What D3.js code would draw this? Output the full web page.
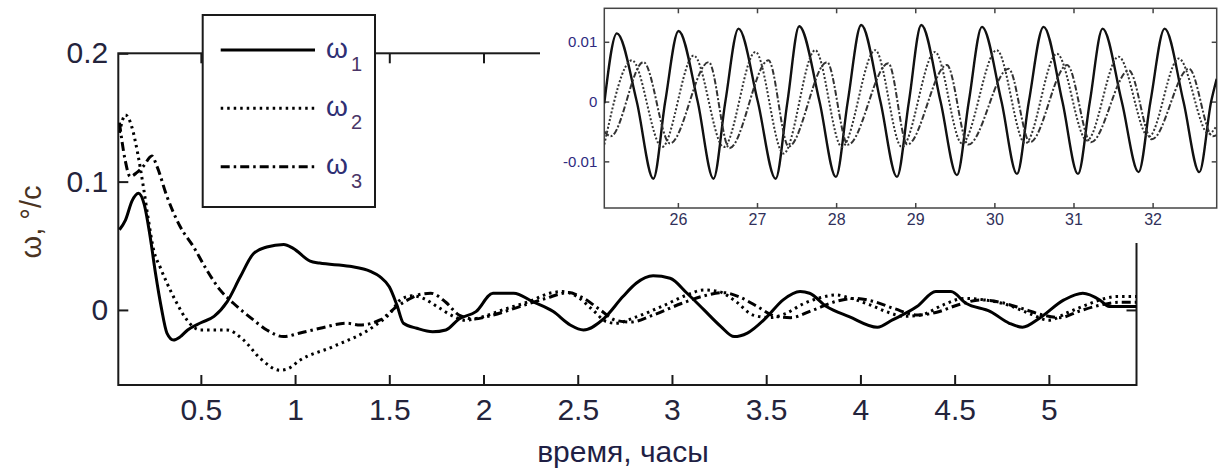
<!DOCTYPE html>
<html>
<head>
<meta charset="utf-8">
<script src="https://cdn.jsdelivr.net/npm/d3@7"></script>
<style>
  html, body { margin: 0; padding: 0; background: #fff; }
  svg { display: block; }
  text { font-family: "Liberation Sans", Arial, sans-serif; }
</style>
</head>
<body>
<svg id="chart" width="1220" height="469"></svg>
<script>
// ---------- DATA ----------
// main chart: time in hours, angular rate in deg/s
const w1Time = [0.068,0.10,0.135,0.169,0.20,0.23,0.26,0.29,0.32,0.355,0.39,0.43,0.50,0.57,0.64,0.71,0.78,0.85,0.94,0.99,1.08,1.13,1.29,1.40,1.45,1.50,1.54,1.575,1.646,1.73,1.80,1.87,1.96,2.05,2.16,2.26,2.37,2.46,2.53,2.64,2.74,2.81,2.90,2.99,3.08,3.17,3.26,3.33,3.40,3.50,3.59,3.68,3.73,3.82,3.94,4.09,4.17,4.30,4.40,4.48,4.56,4.69,4.79,4.86,4.95,5.08,5.18,5.27,5.32,5.465];
const w1Vals = [0.0625,0.070,0.085,0.091,0.082,0.058,0.028,0.002,-0.018,-0.0234,-0.021,-0.0156,-0.010,-0.005,0.0065,0.026,0.044,0.049,0.051,0.048,0.038,0.0365,0.034,0.030,0.026,0.018,0.004,-0.0104,-0.0143,-0.017,-0.0156,-0.007,-0.0013,0.013,0.013,0.0065,-0.0013,-0.0117,-0.0156,-0.0065,0.0104,0.0208,0.0266,0.0247,0.013,0.0,-0.013,-0.0208,-0.018,-0.006,0.0078,0.0143,0.013,0.0026,-0.0052,-0.0135,-0.0078,0.0026,0.0143,0.0143,0.0052,-0.0013,-0.0104,-0.0135,-0.0065,0.0078,0.013,0.0078,0.0026,0.0026];

const w2Time = [0.068,0.10,0.133,0.165,0.195,0.222,0.249,0.285,0.32,0.37,0.426,0.496,0.57,0.638,0.726,0.815,0.92,0.96,1.027,1.2,1.416,1.504,1.56,1.62,1.68,1.76,1.84,1.90,1.98,2.10,2.25,2.35,2.42,2.50,2.58,2.65,2.70,2.80,2.95,3.08,3.17,3.25,3.34,3.43,3.52,3.60,3.70,3.80,3.87,3.95,4.05,4.15,4.23,4.32,4.44,4.55,4.65,4.78,4.90,5.00,5.10,5.20,5.30,5.36,5.465];
const w2Vals = [0.138,0.152,0.143,0.122,0.096,0.07,0.047,0.033,0.021,0.006,-0.0078,-0.0156,-0.0156,-0.0156,-0.0234,-0.0377,-0.047,-0.046,-0.039,-0.0287,-0.013,-0.0026,0.008,0.011,0.009,0.002,-0.005,-0.008,-0.006,0.0,0.007,0.013,0.0143,0.01,0.0,-0.009,-0.0104,-0.006,0.003,0.0117,0.0156,0.0143,0.0065,-0.004,-0.006,-0.003,0.005,0.01,0.0117,0.009,0.004,-0.002,-0.005,-0.004,0.004,0.009,0.008,0.004,-0.003,-0.008,-0.002,0.004,0.009,0.0104,0.0104];

const w3Time = [0.068,0.098,0.125,0.16,0.195,0.24,0.267,0.32,0.39,0.46,0.532,0.602,0.673,0.779,0.85,0.938,1.027,1.133,1.275,1.345,1.451,1.54,1.60,1.66,1.72,1.80,1.87,1.95,2.05,2.20,2.33,2.45,2.52,2.62,2.70,2.78,2.90,3.05,3.17,3.27,3.36,3.46,3.55,3.63,3.75,3.88,3.97,4.06,4.18,4.30,4.40,4.52,4.64,4.74,4.86,4.97,5.06,5.16,5.28,5.38,5.465];
const w3Vals = [0.146,0.117,0.104,0.107,0.112,0.12,0.112,0.0885,0.065,0.0495,0.031,0.0156,0.0052,-0.0078,-0.0156,-0.0208,-0.018,-0.0143,-0.0104,-0.0117,-0.0078,0.0026,0.008,0.012,0.013,0.006,-0.004,-0.007,-0.004,0.003,0.009,0.0135,0.01,0.0,-0.008,-0.0095,-0.004,0.005,0.011,0.0135,0.01,0.002,-0.005,-0.006,0.0,0.007,0.009,0.007,0.001,-0.004,-0.002,0.004,0.0078,0.006,0.001,-0.004,-0.006,-0.001,0.004,0.006,0.006];

// inset: 25..33 hours
const i1Time = [25.07,25.229,25.48,25.69,25.84,26.008,26.25,26.45,26.60,26.766,27.01,27.235,27.385,27.533,27.79,27.997,28.147,28.317,28.56,28.769,28.92,29.076,29.32,29.527,29.677,29.843,30.09,30.286,30.436,30.622,30.86,31.057,31.207,31.368,31.61,31.823,31.973,32.152,32.39,32.59,32.74,32.81];
const i1Vals = [-0.0003,0.0114,0,-0.0129,0,0.0118,0,-0.0129,0,0.0122,0,-0.0129,0,0.0126,0,-0.0126,0,0.0128,0,-0.0126,0,0.0128,0,-0.0123,0,0.0125,0,-0.0121,0,0.0125,0,-0.0121,0,0.0122,0,-0.0118,0,0.0122,0,-0.0118,0,0.0038];

const i2Time = [25.07,25.42,25.80,26.20,26.58,26.98,27.335,27.736,28.073,28.494,28.83,29.25,29.59,30.03,30.39,30.79,31.17,31.57,31.95,32.33,32.71,32.81];
const i2Vals = [-0.0072,0.0069,-0.0076,0.0077,-0.0076,0.0083,-0.0087,0.0086,-0.0076,0.0086,-0.0076,0.0083,-0.0070,0.0086,-0.0070,0.0080,-0.0065,0.0075,-0.0059,0.0072,-0.0054,-0.0040];

const i3Time = [25.07,25.15,25.565,25.90,26.39,26.65,27.145,27.40,27.884,28.15,28.66,28.90,29.40,29.67,30.18,30.45,30.92,31.22,31.70,31.99,32.46,32.76,32.81];
const i3Vals = [-0.0050,-0.0058,0.0066,-0.0070,0.0066,-0.0078,0.0069,-0.0075,0.0066,-0.0072,0.0064,-0.0072,0.0061,-0.0072,0.0055,-0.0068,0.0061,-0.0068,0.0052,-0.0063,0.0055,-0.0058,-0.0056];

const xTickVals = [0.5,1,1.5,2,2.5,3,3.5,4,4.5,5];
const xTickLabels = ["0.5","1","1.5","2","2.5","3","3.5","4","4.5","5"];
const yTickVals = [0,0.1,0.2];
const yTickLabels = ["0","0.1","0.2"];
const insetXTickVals = [26,27,28,29,30,31,32];
const insetXTickLabels = ["26","27","28","29","30","31","32"];
const insetYTickVals = [-0.01,0,0.01];
const insetYTickLabels = ["-0.01","0","0.01"];
const seriesNames = ["1","2","3"];
const xTitle = "время, часы";
const yTitle = "ω, °/с";

// ---------- DRAW ----------
const svg = d3.select("#chart");
const L = 118.3, R = 1136.5, T = 53.3, B = 385;
const x = d3.scaleLinear().domain([0.062, 5.465]).range([L, R]);
const y = d3.scaleLinear().domain([-0.0585, 0.2]).range([B, T]);

const axisColor = "#1a1a1a";
const tickColor = "#24243c";

svg.append("defs").append("clipPath").attr("id","clipMain")
  .append("rect").attr("x",L).attr("y",T).attr("width",R-L).attr("height",B-T);

const fmt = (vals, labels) => (d => labels[vals.indexOf(d)]);

// bottom axis
const gx = svg.append("g").attr("transform",`translate(0,${B})`)
  .call(d3.axisBottom(x).tickValues(xTickVals).tickFormat(fmt(xTickVals,xTickLabels)).tickSize(-10).tickPadding(14));
// top axis (mirror ticks)
const gxt = svg.append("g").attr("transform",`translate(0,${T})`)
  .call(d3.axisTop(x).tickValues(xTickVals).tickFormat("").tickSize(-10));
// left axis
const gy = svg.append("g").attr("transform",`translate(${L},0)`)
  .call(d3.axisLeft(y).tickValues(yTickVals).tickFormat(fmt(yTickVals,yTickLabels)).tickSize(-10).tickPadding(10));
// right axis (mirror)
const gyr = svg.append("g").attr("transform",`translate(${R},0)`)
  .call(d3.axisRight(y).tickValues(yTickVals).tickFormat("").tickSize(-10));

[gx,gxt,gy,gyr].forEach(g => {
  g.select(".domain").remove();
  g.selectAll(".tick line").attr("stroke",axisColor).attr("stroke-width",2);
  g.selectAll(".tick text").attr("fill",tickColor).attr("font-size",30)
    .attr("font-family",'"Liberation Sans", Arial, sans-serif');
});

svg.append("rect").attr("x",L).attr("y",T).attr("width",R-L).attr("height",B-T)
  .attr("fill","none").attr("stroke",axisColor).attr("stroke-width",2);

// axis titles
svg.append("text").attr("x",623).attr("y",462).attr("text-anchor","middle")
  .attr("font-size",30).attr("fill","#1f1f45").text(xTitle);
svg.append("text").attr("transform","translate(41,222) rotate(-90)").attr("text-anchor","middle")
  .attr("font-size",29).attr("fill","#4a3322").text(yTitle);

// curves
const line = (sx, sy) => d3.line().x(d=>sx(d[0])).y(d=>sy(d[1])).curve(d3.curveMonotoneX);
const styles = [
  {dash:null},
  {dash:"2.5,4"},
  {dash:"9,4,2.5,4"}
];
const mainData = [d3.zip(w1Time,w1Vals), d3.zip(w2Time,w2Vals), d3.zip(w3Time,w3Vals)];
const gm = svg.append("g").attr("clip-path","url(#clipMain)");
mainData.forEach((d,i) => {
  gm.append("path").datum(d).attr("d", line(x,y))
    .attr("fill","none").attr("stroke","#000").attr("stroke-width",3)
    .attr("stroke-dasharray", styles[i].dash);
});

// legend
const lg = svg.append("g");
lg.append("rect").attr("x",202.7).attr("y",15).attr("width",172.3).attr("height",192)
  .attr("fill","#fff").attr("stroke",axisColor).attr("stroke-width",2);
const rowY = [50,108.3,166.7];
seriesNames.forEach((s,i) => {
  lg.append("line").attr("x1",220.7).attr("x2",315).attr("y1",rowY[i]).attr("y2",rowY[i])
    .attr("stroke","#000").attr("stroke-width",3).attr("stroke-dasharray",styles[i].dash);
  lg.append("text").attr("x",326).attr("y",rowY[i]+7.5).attr("font-size",28).attr("fill","#2f2f74").text("ω");
  lg.append("text").attr("x",351).attr("y",rowY[i]+21).attr("font-size",20).attr("fill","#4a3566").text(s);
});

// inset
const iL = 604.3, iR = 1216.7, iT = 8.3, iB = 208;
svg.append("rect").attr("x",540).attr("y",0).attr("width",680).attr("height",243).attr("fill","#fff");
const xi = d3.scaleLinear().domain([25.07, 32.81]).range([iL, iR]);
const yi = d3.scaleLinear().domain([-0.0178, 0.0156]).range([iB, iT]);
svg.append("defs").append("clipPath").attr("id","clipInset")
  .append("rect").attr("x",iL).attr("y",iT).attr("width",iR-iL).attr("height",iB-iT);

const insetColor = "#30305a";
const gix = svg.append("g").attr("transform",`translate(0,${iB})`)
  .call(d3.axisBottom(xi).tickValues(insetXTickVals).tickFormat(fmt(insetXTickVals,insetXTickLabels)).tickSize(-5).tickPadding(6));
const gixt = svg.append("g").attr("transform",`translate(0,${iT})`)
  .call(d3.axisTop(xi).tickValues(insetXTickVals).tickFormat("").tickSize(-5));
const giy = svg.append("g").attr("transform",`translate(${iL},0)`)
  .call(d3.axisLeft(yi).tickValues(insetYTickVals).tickFormat(fmt(insetYTickVals,insetYTickLabels)).tickSize(-5).tickPadding(7));
const giyr = svg.append("g").attr("transform",`translate(${iR},0)`)
  .call(d3.axisRight(yi).tickValues(insetYTickVals).tickFormat("").tickSize(-5));
[gix,gixt,giy,giyr].forEach(g => {
  g.select(".domain").remove();
  g.selectAll(".tick line").attr("stroke","#444").attr("stroke-width",1.5);
  g.selectAll(".tick text").attr("fill",insetColor).attr("font-size",16)
    .attr("font-family",'"Liberation Sans", Arial, sans-serif');
});
giy.selectAll(".tick text").attr("fill","#2e2a80").attr("font-size",15);
svg.append("rect").attr("x",iL).attr("y",iT).attr("width",iR-iL).attr("height",iB-iT)
  .attr("fill","none").attr("stroke","#444").attr("stroke-width",1.5);

const insetData = [d3.zip(i1Time,i1Vals), d3.zip(i2Time,i2Vals), d3.zip(i3Time,i3Vals)];
const insetStyles = [null, "2,2", "6,2,2,2"];
const gi = svg.append("g").attr("clip-path","url(#clipInset)");
insetData.forEach((d,i) => {
  gi.append("path").datum(d).attr("d", line(xi,yi))
    .attr("fill","none").attr("stroke", i===0 ? "#111" : "#333").attr("stroke-width", i===0 ? 2.4 : 2)
    .attr("stroke-dasharray", insetStyles[i]);
});
</script>
</body>
</html>
